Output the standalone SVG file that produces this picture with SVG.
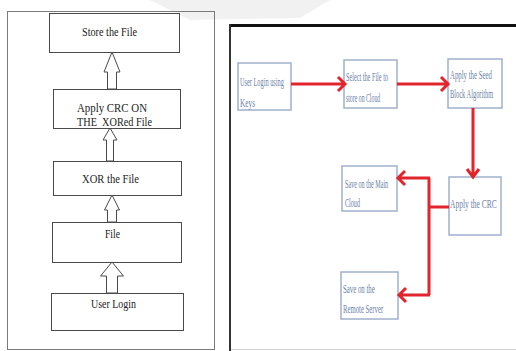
<svg xmlns="http://www.w3.org/2000/svg" width="516" height="351" viewBox="0 0 516 351">
<style>
.lb{fill:#fff;stroke:#4a4a4a;stroke-width:1}
.lt{font-family:"Liberation Serif","Times New Roman",serif;font-size:12.5px;fill:#222}
.ha{fill:#fff;stroke:#4a4a4a;stroke-width:1}
.rb{fill:#fff;stroke:#9fb0cc;stroke-width:1.5}
.rt{font-family:"Liberation Serif","Times New Roman",serif;font-size:12px;fill:#6b7fa8}
.rc{fill:none;stroke:#e2252d;stroke-width:3}
</style>
<rect width="516" height="351" fill="#fff"/>
<polygon points="150,0 330,0 300,18 190,20" fill="#f1f1f1"/>
<!-- left panel -->
<rect x="7.5" y="11.5" width="207" height="338" fill="none" stroke="#7a7a7a" stroke-width="1"/>
<g id="left-arrows">
<polygon class="ha" points="112,52 120,72 116.5,72 116.5,89 107.5,89 107.5,72 104,72"/>
<polygon class="ha" points="110,128 117,140 113.5,140 113.5,161 106.5,161 106.5,140 103,140"/>
<polygon class="ha" points="112,195 119.5,210 116.5,210 116.5,222 107.5,222 107.5,210 104.5,210"/>
<polygon class="ha" points="112,262 123.5,276 117.5,276 117.5,293 106.5,293 106.5,276 100.5,276"/>
</g>
<g id="store"><rect class="lb" x="49.5" y="13.5" width="130" height="39"/><text class="lt" x="82" y="36" textLength="55" lengthAdjust="spacingAndGlyphs">Store the File</text></g>
<g id="applycrc"><rect class="lb" x="53.5" y="89.5" width="127" height="39"/><text class="lt" x="77" y="112" textLength="70" lengthAdjust="spacingAndGlyphs">Apply CRC ON</text><text class="lt" x="77" y="125.5" textLength="75" lengthAdjust="spacingAndGlyphs" xml:space="preserve">THE  XORed File</text></g>
<g id="xor"><rect class="lb" x="53.5" y="161.5" width="128" height="34"/><text class="lt" x="82" y="183" textLength="57" lengthAdjust="spacingAndGlyphs">XOR the File</text></g>
<g id="file"><rect class="lb" x="52.5" y="222.5" width="129" height="40"/><text class="lt" x="105" y="238" textLength="15" lengthAdjust="spacingAndGlyphs">File</text></g>
<g id="userlogin"><rect class="lb" x="51.5" y="293.5" width="132" height="37"/><text class="lt" x="91" y="308" textLength="45" lengthAdjust="spacingAndGlyphs">User Login</text></g>
<!-- right panel -->
<line x1="229" y1="25.5" x2="516" y2="25.5" stroke="#111" stroke-width="3"/>
<line x1="230" y1="24" x2="230" y2="351" stroke="#333" stroke-width="2"/>
<line x1="231" y1="349.5" x2="516" y2="349.5" stroke="#d4d4d4" stroke-width="1"/>
<g id="r-login"><rect class="rb" x="238" y="63" width="53" height="47"/><text class="rt" transform="translate(240 86) scale(0.6 1)" textLength="73" lengthAdjust="spacingAndGlyphs">User Login using</text><text class="rt" transform="translate(240 107) scale(0.6 1)" textLength="25" lengthAdjust="spacingAndGlyphs">Keys</text></g>
<g id="r-select"><rect class="rb" x="344" y="60" width="53" height="48"/><text class="rt" transform="translate(346 81) scale(0.6 1)" textLength="70" lengthAdjust="spacingAndGlyphs">Select the File to</text><text class="rt" transform="translate(346 102) scale(0.6 1)" textLength="57" lengthAdjust="spacingAndGlyphs">store on Cloud</text></g>
<g id="r-seed"><rect class="rb" x="448" y="59" width="54" height="49"/><text class="rt" transform="translate(450 79) scale(0.6 1)" textLength="70" lengthAdjust="spacingAndGlyphs">Apply the Seed</text><text class="rt" transform="translate(450 98) scale(0.6 1)" textLength="72" lengthAdjust="spacingAndGlyphs">Block Algorithm</text></g>
<g id="r-crc"><rect class="rb" x="449" y="177" width="52" height="58"/><text class="rt" transform="translate(450 208) scale(0.6 1)" textLength="78" lengthAdjust="spacingAndGlyphs">Apply the CRC</text></g>
<g id="r-main"><rect class="rb" x="342" y="166" width="55" height="45"/><text class="rt" transform="translate(345 188) scale(0.6 1)" textLength="72" lengthAdjust="spacingAndGlyphs">Save on the Main</text><text class="rt" transform="translate(345 207) scale(0.6 1)" textLength="25" lengthAdjust="spacingAndGlyphs">Cloud</text></g>
<g id="r-remote"><rect class="rb" x="341" y="272" width="57" height="47"/><text class="rt" transform="translate(343 293) scale(0.6 1)" textLength="53" lengthAdjust="spacingAndGlyphs">Save on the</text><text class="rt" transform="translate(343 313) scale(0.6 1)" textLength="67" lengthAdjust="spacingAndGlyphs">Remote Server</text></g>
<g id="connectors">
<path class="rc" d="M291 84H344M338 77L345 84L338 91"/>
<path class="rc" d="M397 84H447M441 77L448 84L441 91"/>
<path class="rc" d="M473 108V176M467 169L473 177L479 169"/>
<path class="rc" d="M449 207H429M429 178V295M430 178H398M405 171L398 178L405 185M430 295H399M406 288L399 295L406 302"/>
</g>
</svg>
